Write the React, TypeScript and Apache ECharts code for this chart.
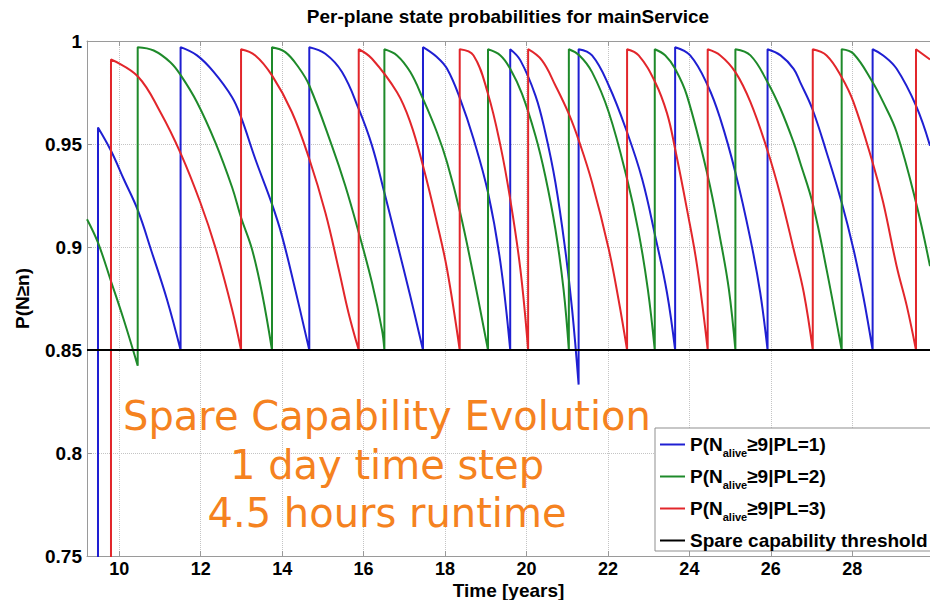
import React, { useEffect, useRef } from 'react';
import * as echarts from 'echarts';

// Time axis (years) and probability axis limits
const timeMin = 9.207;
const timeMax = 29.909;
const timeTicks = [10, 12, 14, 16, 18, 20, 22, 24, 26, 28];
const probMin = 0.75;
const probMax = 1;
const probStep = 0.05;

// Spare capability threshold
const thresholdLevel = 0.85;

// P(N_alive >= 9 | PL = 1): [time in years, probability]
const pl1Samples: [number, number][] = [
  [9.207, 0.7], [9.477, 0.7], [9.477, 0.958], [9.796, 0.9467], [10.108, 0.933], [10.452, 0.918], [10.803, 0.8972], [11.171, 0.8745], [11.505, 0.85],
  [11.505, 0.997], [11.908, 0.993], [12.317, 0.985], [12.77, 0.9727], [12.99, 0.963], [13.34, 0.9427], [13.75, 0.9208], [13.995, 0.9054], [14.32, 0.8794], [14.666, 0.85],
  [14.666, 0.997], [15.06, 0.9938], [15.47, 0.9849], [15.88, 0.967], [16.206, 0.9492], [16.51, 0.9264], [16.82, 0.9021], [17.147, 0.8761], [17.458, 0.85],
  [17.458, 0.997], [17.8, 0.9922], [18.05, 0.9865], [18.37, 0.9719], [18.7, 0.9524], [19.055, 0.9264], [19.36, 0.8924], [19.6, 0.85],
  [19.6, 0.996], [19.85, 0.9906], [20.22, 0.9735], [20.46, 0.9557], [20.71, 0.9313], [20.95, 0.8989], [21.12, 0.8697], [21.28, 0.8332],
  [21.28, 0.996], [21.61, 0.993], [22.02, 0.9784], [22.47, 0.9557], [22.84, 0.933], [23.16, 0.9054], [23.45, 0.8778], [23.65, 0.85],
  [23.65, 0.997], [24.02, 0.993], [24.45, 0.9784], [24.76, 0.9622], [25.13, 0.9362], [25.5, 0.9037], [25.74, 0.8778], [25.92, 0.85],
  [25.92, 0.996], [26.24, 0.993], [26.56, 0.9865], [26.72, 0.98], [27.02, 0.967], [27.37, 0.9459], [27.74, 0.9216], [28.03, 0.8989], [28.27, 0.8761], [28.5, 0.85],
  [28.5, 0.996], [28.76, 0.993], [29.09, 0.9865], [29.565, 0.9686], [29.909, 0.9492],
];

// P(N_alive >= 9 | PL = 2)
const pl2Samples: [number, number][] = [
  [9.207, 0.9135], [9.477, 0.9021], [9.796, 0.8834], [10.108, 0.8648], [10.452, 0.8424],
  [10.452, 0.997], [10.845, 0.9954], [11.253, 0.9897], [11.515, 0.9832], [11.908, 0.9703], [12.358, 0.9508], [12.77, 0.929], [12.99, 0.9143], [13.259, 0.8989], [13.504, 0.8778], [13.75, 0.85],
  [13.75, 0.997], [14.077, 0.9946], [14.41, 0.987], [14.666, 0.9784], [15.22, 0.9492], [15.55, 0.9297], [15.88, 0.907], [16.206, 0.8826], [16.45, 0.8599], [16.51, 0.85],
  [16.51, 0.996], [16.82, 0.993], [17.147, 0.9849], [17.458, 0.9719], [17.8, 0.9557], [18.05, 0.941], [18.37, 0.9167], [18.7, 0.8859], [19.055, 0.85],
  [19.055, 0.996], [19.36, 0.993], [19.6, 0.9865], [19.89, 0.9743], [20.22, 0.954], [20.46, 0.9346], [20.71, 0.9086], [20.91, 0.8794], [21.04, 0.85],
  [21.04, 0.996], [21.3, 0.993], [21.61, 0.9849], [22.02, 0.9654], [22.47, 0.933], [22.755, 0.907], [22.98, 0.8794], [23.15, 0.85],
  [23.15, 0.996], [23.41, 0.993], [23.65, 0.9865], [23.94, 0.9735], [24.45, 0.9346], [24.76, 0.9037], [24.97, 0.8794], [25.13, 0.85],
  [25.13, 0.996], [25.5, 0.993], [25.92, 0.98], [26.24, 0.967], [26.56, 0.9508], [26.72, 0.941], [27.03, 0.921], [27.37, 0.889], [27.74, 0.85],
  [27.74, 0.996], [28.03, 0.9938], [28.5, 0.98], [28.76, 0.9703], [29.09, 0.9557], [29.565, 0.9216], [29.909, 0.8907],
];

// P(N_alive >= 9 | PL = 3)
const pl3Samples: [number, number][] = [
  [9.207, 0.7], [9.796, 0.7], [9.796, 0.991], [10.452, 0.9829], [11.01, 0.9654], [11.515, 0.9451], [11.99, 0.9216], [12.36, 0.8997], [12.77, 0.8697], [12.99, 0.85],
  [12.99, 0.996], [13.34, 0.993], [13.75, 0.9833], [14.24, 0.9654], [14.666, 0.9427], [15.06, 0.9167], [15.39, 0.8891], [15.63, 0.868], [15.88, 0.85],
  [15.88, 0.996], [16.206, 0.9914], [16.82, 0.9751], [17.147, 0.9605], [17.458, 0.9394], [17.8, 0.9118], [18.05, 0.8891], [18.36, 0.85],
  [18.36, 0.996], [18.7, 0.993], [19.055, 0.9743], [19.36, 0.9492], [19.6, 0.9232], [19.85, 0.8891], [20.04, 0.85],
  [20.04, 0.996], [20.38, 0.9906], [20.71, 0.9784], [21.04, 0.9646], [21.3, 0.9508], [21.61, 0.9313], [22.02, 0.8989], [22.26, 0.8745], [22.47, 0.85],
  [22.47, 0.996], [22.755, 0.993], [23.16, 0.98], [23.45, 0.965], [23.65, 0.9476], [23.94, 0.9184], [24.19, 0.8907], [24.45, 0.85],
  [24.45, 0.996], [24.76, 0.993], [25.13, 0.9849], [25.5, 0.9703], [25.92, 0.9467], [26.24, 0.9248], [26.56, 0.8989], [26.81, 0.8778], [27.03, 0.85],
  [27.03, 0.996], [27.37, 0.993], [27.74, 0.9824], [28.03, 0.9703], [28.5, 0.941], [28.76, 0.9216], [29.09, 0.8907], [29.34, 0.8713], [29.565, 0.85],
  [29.565, 0.996], [29.909, 0.991],
];

const seriesNames = [
  'P(N_alive≥9|PL=1)',
  'P(N_alive≥9|PL=2)',
  'P(N_alive≥9|PL=3)',
  'Spare capability threshold',
];

const overlayLines = ['Spare Capability Evolution', '1 day time step', '4.5 hours runtime'];

const FONT = '"Liberation Sans", Arial, sans-serif';
const frameColor = '#9a9a9a';
const gridColor = '#c4c4c4';
const lineColors = ['#1f1fd2', '#1e8a2a', '#e2262b', '#000000'];

const axisFont = { fontFamily: FONT, fontWeight: 'bold' as const, fontSize: 19, color: '#000' };

function legendLabel(name: string): string {
  const m = name.match(/^P\(N_alive(.*)$/);
  if (m) return `{n|P(N}{s|alive}{n|${m[1]}}`;
  return `{t|${name}}`;
}

function buildOption() {
  const sampleSets = [pl1Samples, pl2Samples, pl3Samples];
  const series: any[] = sampleSets.map((data, i) => ({
    name: seriesNames[i],
    type: 'line',
    data,
    symbol: 'none',
    smooth: 0.4,
    clip: true,
    lineStyle: { color: lineColors[i], width: 2 },
    itemStyle: { color: lineColors[i] },
    emphasis: { disabled: true },
    z: 2 + i,
  }));
  series.push({
    name: seriesNames[3],
    type: 'line',
    data: [[timeMin, thresholdLevel], [timeMax, thresholdLevel]],
    symbol: 'none',
    lineStyle: { color: lineColors[3], width: 2 },
    itemStyle: { color: lineColors[3] },
    emphasis: { disabled: true },
    z: 6,
  });

  return {
    animation: false,
    backgroundColor: '#ffffff',
    title: {
      text: 'Per-plane state probabilities for mainService',
      left: 508,
      textAlign: 'center',
      top: 7,
      padding: 0,
      textStyle: { fontFamily: FONT, fontWeight: 'bold', fontSize: 19, color: '#000' },
    },
    grid: { left: 87, right: 0, top: 41, bottom: 44, containLabel: false, outerBoundsMode: 'none' },
    legend: {
      orient: 'vertical',
      left: 655,
      top: 428,
      padding: [7, 24, 1, 5],
      itemGap: 8.5,
      itemWidth: 25,
      itemHeight: 2,
      icon: 'rect',
      backgroundColor: '#ffffff',
      borderColor: '#8f8f8f',
      borderWidth: 1,
      borderRadius: 0,
      data: seriesNames,
      formatter: legendLabel,
      textStyle: {
        fontFamily: FONT,
        fontWeight: 'bold',
        fontSize: 19,
        color: '#000',
        rich: {
          n: { fontFamily: FONT, fontWeight: 'bold', fontSize: 19, color: '#000', lineHeight: 28 },
          s: { fontFamily: FONT, fontWeight: 'bold', fontSize: 11, color: '#000', lineHeight: 11, verticalAlign: 'bottom' },
          t: { fontFamily: FONT, fontWeight: 'bold', fontSize: 19, color: '#000', lineHeight: 20 },
        },
      },
    },
    xAxis: [
      {
        type: 'value',
        position: 'bottom',
        min: timeMin,
        max: timeMax,
        name: 'Time [years]',
        nameLocation: 'middle',
        nameGap: 25,
        nameMoveOverlap: false,
        nameTextStyle: axisFont,
        axisLine: { show: true, onZero: false, lineStyle: { color: frameColor, width: 1 } },
        axisTick: { show: true, inside: true, length: 5, customValues: timeTicks, lineStyle: { color: frameColor } },
        axisLabel: { customValues: timeTicks, margin: 4, ...axisFont, fontSize: 18 },
        splitLine: { show: true, lineStyle: { color: gridColor, type: 'dotted', width: 1 } },
      },
      {
        type: 'value',
        position: 'top',
        min: timeMin,
        max: timeMax,
        axisLine: { show: true, onZero: false, lineStyle: { color: frameColor, width: 1 } },
        axisTick: { show: true, inside: true, length: 5, customValues: timeTicks, lineStyle: { color: frameColor } },
        axisLabel: { show: false },
        splitLine: { show: false },
      },
    ],
    yAxis: {
      type: 'value',
      min: probMin,
      max: probMax,
      interval: probStep,
      name: 'P(N≥n)',
      nameLocation: 'middle',
      nameRotate: 90,
      nameGap: 55,
      nameMoveOverlap: false,
      nameTextStyle: axisFont,
      axisLine: { show: true, onZero: false, lineStyle: { color: frameColor, width: 1 } },
      axisTick: { show: true, inside: true, length: 5, lineStyle: { color: frameColor } },
      axisLabel: { margin: 5, ...axisFont },
      splitLine: { show: true, lineStyle: { color: gridColor, type: 'dotted', width: 1 } },
    },
    graphic: overlayLines.map((line, i) => ({
      type: 'text',
      x: 387,
      y: 416 + i * 48.5,
      z: 100,
      silent: true,
      style: {
        text: line,
        fill: '#f58220',
        fontFamily: '"DejaVu Sans", Verdana, sans-serif',
        fontSize: 40,
        align: 'center',
        verticalAlign: 'middle',
      },
    })),
    series,
  };
}

export default function App() {
  const ref = useRef<HTMLDivElement>(null);

  useEffect(() => {
    document.body.style.margin = '0';
    if (!ref.current) return;
    const chart = echarts.init(ref.current, null, { renderer: 'svg' });
    chart.setOption(buildOption() as any);
    return () => {
      chart.dispose();
    };
  }, []);

  return (
    <div
      ref={ref}
      style={{ width: 930, height: 600, position: 'fixed', left: 0, top: 0, background: '#ffffff' }}
    />
  );
}
